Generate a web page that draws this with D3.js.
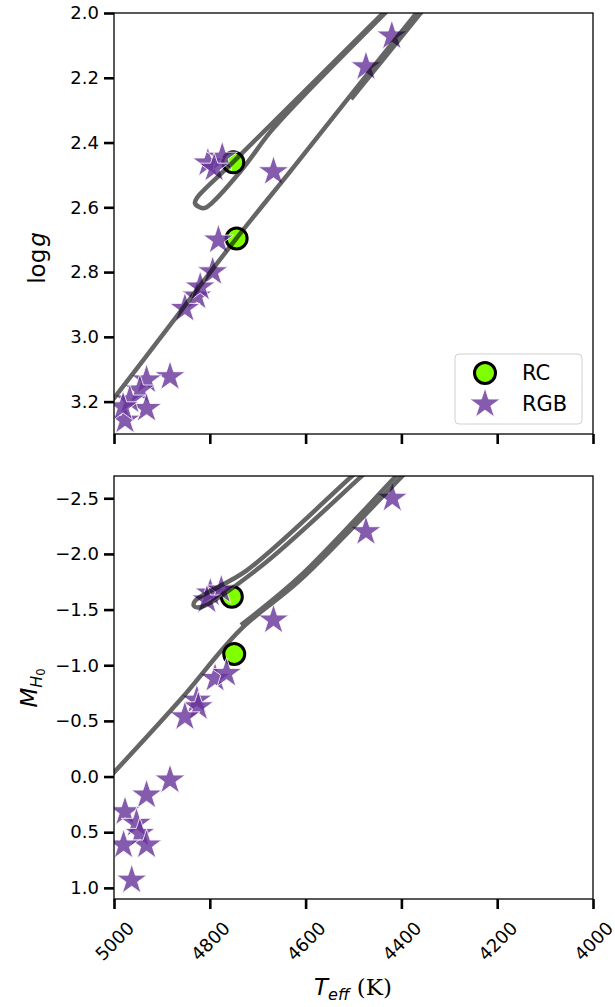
<!DOCTYPE html>
<html>
<head>
<meta charset="utf-8">
<script src="https://cdn.jsdelivr.net/npm/d3@7"></script>
<style>
  body { margin: 0; background: #fff; }
  text { font-family: "DejaVu Sans", sans-serif; }
</style>
</head>
<body>
<script>
// ticks
const teffTicks = [5000, 4800, 4600, 4400, 4200, 4000]
const loggTicks = [2.0, 2.2, 2.4, 2.6, 2.8, 3.0, 3.2]
const magTicks = [-2.5, -2.0, -1.5, -1.0, -0.5, 0.0, 0.5, 1.0]

// red clump stars
const rcTeff = [4751, 4744]
const rcLogg = [2.461, 2.696]
const rcTeffMag = [4754, 4749]
const rcMag = [-1.616, -1.101]

// red giant branch stars (top panel)
const rgbTeff = [4420, 4474, 4667, 4804, 4774, 4791, 4782, 4794, 4827, 4820, 4852, 4883, 4932, 4946, 4932, 4977, 4967, 4981]
const rgbLogg = [2.071, 2.166, 2.490, 2.463, 2.445, 2.479, 2.701, 2.799, 2.874, 2.846, 2.912, 3.123, 3.133, 3.164, 3.221, 3.257, 3.195, 3.216]
// red giant branch stars (bottom panel)
const rgbTeffMag = [4419, 4474, 4667, 4799, 4776, 4806, 4789, 4765, 4827, 4824, 4852, 4883, 4932, 4977, 4953, 4946, 4932, 4980, 4963]
const rgbMag = [-2.500, -2.200, -1.406, -1.649, -1.676, -1.586, -0.882, -0.927, -0.687, -0.627, -0.537, 0.031, 0.166, 0.316, 0.420, 0.510, 0.615, 0.615, 0.930]

// evolutionary track
const trkRgbTeff = [5008, 4883, 4744, 4632, 4507, 4350]
const trkRgbLogg = [3.205, 2.964, 2.695, 2.489, 2.256, 1.966]
const trkAgbTeff = [4505, 4346]
const trkAgbLogg = [2.266, 1.975]
const trkLoopTeff = [4413, 4438, 4751, 4827, 4831, 4822, 4810, 4737, 4674, 4611, 4413]
const trkLoopLogg = [1.963, 2.000, 2.460, 2.571, 2.587, 2.599, 2.602, 2.491, 2.368, 2.266, 1.969]

const trkRgbTeffM = [5008, 4862, 4737, 4611, 4398, 4361]
const trkRgbMag = [0.000, -0.687, -1.316, -1.766, -2.700, -2.862]
const trkAgbTeffM = [4735, 4611, 4403, 4365]
const trkAgbMag = [-1.361, -1.802, -2.736, -2.898]
const trkLoopTeffM = [4469, 4503, 4722, 4831, 4833, 4818, 4695, 4486, 4453]
const trkLoopMag = [-2.826, -2.700, -1.855, -1.577, -1.532, -1.523, -1.882, -2.687, -2.817]

const W = 615, H = 1007
const left = 114, right = 593
const starR = 16, rcR = 10.5

let svg = d3.select('body').append('svg')
  .attr('width', W).attr('height', H)

let x = d3.scaleLinear().domain([5000, 4000]).range([left, right])

// 5-point star like matplotlib '*'
function starPath(R) {
  let r = R * 0.382, pts = []
  for (let i = 0; i < 10; i++) {
    let a = -Math.PI / 2 + i * Math.PI / 5
    let rr = i % 2 === 0 ? R : r
    pts.push([rr * Math.cos(a), rr * Math.sin(a)])
  }
  return 'M' + pts.map(p => p[0].toFixed(2) + ',' + p[1].toFixed(2)).join('L') + 'Z'
}

function drawPanel(id, y, y0, y1, ticks, rcX, rcY, sX, sY, tracks, showLabels) {
  let g = svg.append('g')
  g.append('clipPath').attr('id', id)
    .append('rect').attr('x', left).attr('y', y0)
    .attr('width', right - left).attr('height', y1 - y0)
  let plot = g.append('g').attr('clip-path', 'url(#' + id + ')')

  plot.selectAll('.rc').data(rcX).enter().append('circle')
    .attr('cx', d => x(d)).attr('cy', (d, i) => y(rcY[i]))
    .attr('r', rcR)
    .attr('fill', '#7fff00').attr('stroke', '#000').attr('stroke-width', 3)

  plot.selectAll('.star').data(sX).enter().append('path')
    .attr('d', starPath(starR))
    .attr('transform', (d, i) => 'translate(' + x(d) + ',' + y(sY[i]) + ')')
    .attr('fill', '#663399').attr('fill-opacity', 0.8)
    .attr('stroke', '#fff').attr('stroke-opacity', 0.8).attr('stroke-width', 1)

  let line = d3.line()
    .x(d => x(d[0])).y(d => y(d[1]))
    .curve(d3.curveCatmullRom.alpha(0.5))
  let trk = plot.append('g').attr('opacity', 0.6)
  tracks.forEach(t => {
    trk.append('path')
      .attr('d', line(t[0].map((v, i) => [v, t[1][i]])))
      .attr('fill', 'none').attr('stroke', '#000')
      .attr('stroke-width', 4.5).attr('stroke-linejoin', 'round')
  })

  // axes
  let ya = g.append('g').attr('transform', 'translate(' + left + ',0)')
    .call(d3.axisLeft(y).tickValues(ticks).tickFormat(d3.format('.1f')).tickSize(10).tickPadding(5))
  let xa = g.append('g').attr('transform', 'translate(0,' + y1 + ')')
    .call(d3.axisBottom(x).tickValues(teffTicks).tickFormat(d3.format('d')).tickSize(10).tickPadding(4))
  ;[ya, xa].forEach(a => {
    a.select('.domain').remove()
    a.selectAll('line').attr('stroke', '#000').attr('stroke-width', 2.6)
    a.selectAll('text').attr('font-size', 18).attr('font-family', 'DejaVu Sans').attr('fill', '#000')
  })
  if (showLabels) {
    xa.selectAll('text')
      .attr('y', 0).attr('dy', '0.36em')
      .attr('text-anchor', 'middle')
      .attr('transform', 'translate(0,42) rotate(-45)')
  } else {
    xa.selectAll('text').remove()
  }

  g.append('rect').attr('x', left).attr('y', y0)
    .attr('width', right - left).attr('height', y1 - y0)
    .attr('fill', 'none').attr('stroke', '#000').attr('stroke-width', 1.3)
  return g
}

let yTop = d3.scaleLinear().domain([2.0, 3.3]).range([13, 434])
let yBot = d3.scaleLinear().domain([-2.7, 1.1]).range([476, 899])

let topPanel = drawPanel('clipTop', yTop, 13, 434, loggTicks, rcTeff, rcLogg, rgbTeff, rgbLogg,
  [[trkRgbTeff, trkRgbLogg], [trkAgbTeff, trkAgbLogg], [trkLoopTeff, trkLoopLogg]], false)
drawPanel('clipBot', yBot, 476, 899, magTicks, rcTeffMag, rcMag, rgbTeffMag, rgbMag,
  [[trkRgbTeffM, trkRgbMag], [trkAgbTeffM, trkAgbMag], [trkLoopTeffM, trkLoopMag]], true)

// legend
let leg = topPanel.append('g')
leg.append('rect').attr('x', 455).attr('y', 354).attr('width', 127).attr('height', 70)
  .attr('rx', 4).attr('fill', '#fff').attr('fill-opacity', 0.8)
  .attr('stroke', '#d0d0d0').attr('stroke-width', 1)
leg.append('circle').attr('cx', 485).attr('cy', 373).attr('r', rcR)
  .attr('fill', '#7fff00').attr('stroke', '#000').attr('stroke-width', 3)
leg.append('path').attr('d', starPath(starR))
  .attr('transform', 'translate(485,404)')
  .attr('fill', '#663399').attr('fill-opacity', 0.8)
  .attr('stroke', '#fff').attr('stroke-opacity', 0.8).attr('stroke-width', 1)
leg.selectAll('.lt').data(['RC', 'RGB']).enter().append('text')
  .attr('x', 522).attr('y', (d, i) => 379.5 + i * 31)
  .attr('font-family', 'DejaVu Serif').attr('font-size', 21)
  .text(d => d)

// axis labels
let yl1 = svg.append('text')
  .attr('transform', 'translate(45,258) rotate(-90)')
  .attr('text-anchor', 'middle').attr('font-size', 23)
yl1.append('tspan').text('log')
yl1.append('tspan').attr('font-style', 'italic').attr('dx', 2).text('g')

let yl2 = svg.append('text')
  .attr('transform', 'translate(37,688) rotate(-90)')
  .attr('text-anchor', 'middle').attr('font-size', 23)
yl2.append('tspan').attr('font-style', 'italic').text('M')
yl2.append('tspan').attr('font-style', 'italic').attr('font-size', 16).attr('dy', 5).text('H')
yl2.append('tspan').attr('font-size', 11.5).attr('dy', 3).text('0')

let xl = svg.append('text')
  .attr('x', 353).attr('y', 995)
  .attr('text-anchor', 'middle').attr('font-size', 23)
xl.append('tspan').attr('font-style', 'italic').text('T')
xl.append('tspan').attr('font-style', 'italic').attr('font-size', 16).attr('dy', 5).text('eff')
xl.append('tspan').attr('font-family', 'DejaVu Serif').attr('dy', -5).text(' (K)')
</script>
</body>
</html>
